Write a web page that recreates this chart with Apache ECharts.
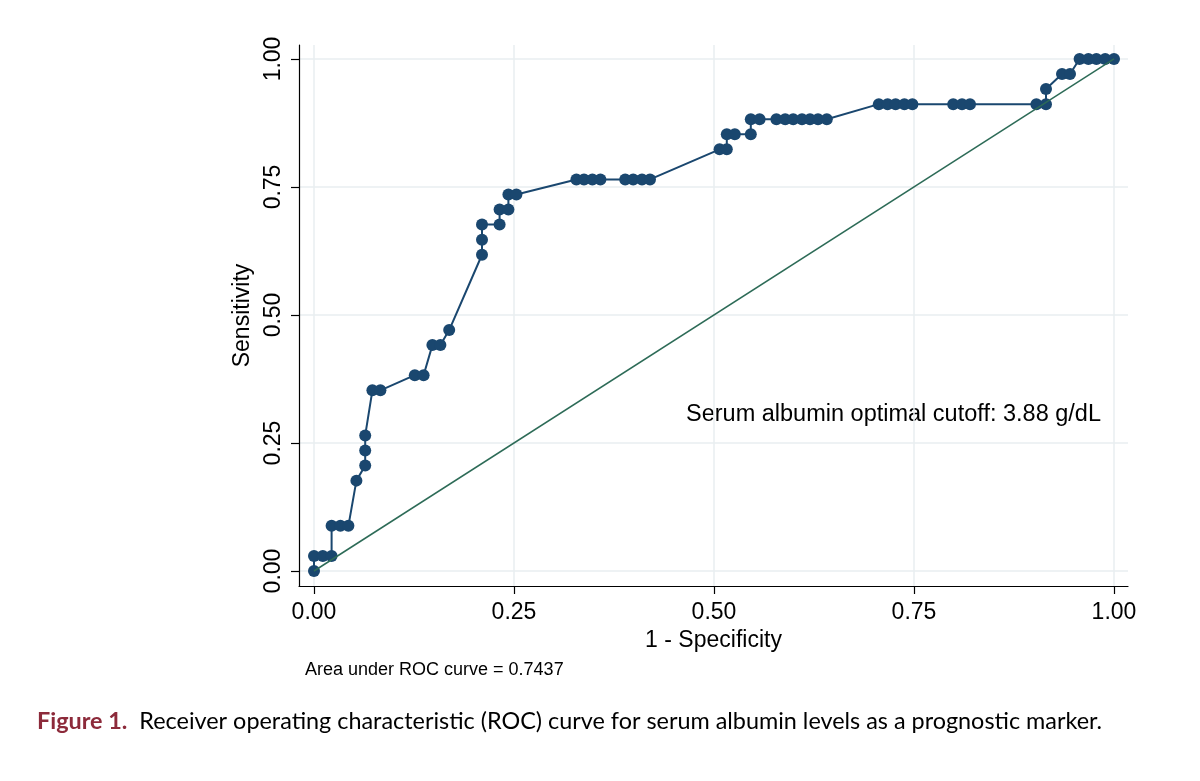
<!DOCTYPE html>
<html>
<head>
<meta charset="utf-8">
<script src="https://cdn.jsdelivr.net/npm/echarts@6/dist/echarts.min.js"></script>
<style>
html,body{margin:0;padding:0;background:#fff;}
#chart{width:1200px;height:781px;}
</style>
</head>
<body>
<div id="chart"></div>
<script>
// 1 - Specificity (false positive rate) for each ROC point
const oneMinusSpec = [
  0.000,
  0.000, 0.011, 0.022,
  0.022, 0.033, 0.043,
  0.053,
  0.064, 0.064, 0.064,
  0.073, 0.083,
  0.126, 0.137,
  0.148, 0.158,
  0.169,
  0.210, 0.210, 0.210,
  0.232, 0.232, 0.243,
  0.243, 0.253,
  0.328, 0.3375, 0.348, 0.358,
  0.389, 0.399, 0.410, 0.420,
  0.507, 0.516,
  0.516, 0.526, 0.546,
  0.546, 0.557,
  0.578, 0.589, 0.599, 0.610, 0.620, 0.630, 0.641,
  0.706, 0.717, 0.727, 0.738, 0.748,
  0.799, 0.810, 0.820,
  0.903, 0.915,
  0.915,
  0.935, 0.945,
  0.957, 0.968, 0.978, 0.989, 1.000
];
// Sensitivity for each ROC point
const sensitivity = [
  0.0000,
  0.0294, 0.0294, 0.0294,
  0.0882, 0.0882, 0.0882,
  0.1765,
  0.2059, 0.2353, 0.2647,
  0.3529, 0.3529,
  0.3824, 0.3824,
  0.4412, 0.4412,
  0.4706,
  0.6176, 0.6471, 0.6765,
  0.6765, 0.7059, 0.7059,
  0.7353, 0.7353,
  0.7647, 0.7647, 0.7647, 0.7647,
  0.7647, 0.7647, 0.7647, 0.7647,
  0.8235, 0.8235,
  0.8529, 0.8529, 0.8529,
  0.8824, 0.8824,
  0.8824, 0.8824, 0.8824, 0.8824, 0.8824, 0.8824, 0.8824,
  0.9118, 0.9118, 0.9118, 0.9118, 0.9118,
  0.9118, 0.9118, 0.9118,
  0.9118, 0.9118,
  0.9412,
  0.9706, 0.9706,
  1.0000, 1.0000, 1.0000, 1.0000, 1.0000
];
// Reference (chance) diagonal
const refX = [0, 1];
const refY = [0, 1];
// Tick values / labels
const tickValues = [0, 0.25, 0.5, 0.75, 1];
const tickLabels = ['0.00', '0.25', '0.50', '0.75', '1.00'];

const annotationText = 'Serum albumin optimal cutoff: 3.88 g/dL';
const aucText = 'Area under ROC curve = 0.7437';
const captionLead = 'Figure 1.';
const captionBody = 'Receiver operating characteristic (ROC) curve for serum albumin levels as a prognostic marker.';

const rocData = oneMinusSpec.map((x, i) => [x, sensitivity[i]]);
const refData = refX.map((x, i) => [x, refY[i]]);

const FONT = '"Liberation Sans", Arial, Helvetica, sans-serif';
const navy = '#1a476f';
const labelFmt = v => {
  const i = tickValues.findIndex(t => Math.abs(t - v) < 1e-9);
  return i >= 0 ? tickLabels[i] : '';
};

const chart = echarts.init(document.getElementById('chart'), null, {renderer: 'canvas'});
chart.setOption({
  animation: false,
  backgroundColor: '#ffffff',
  grid: {left: 299, top: 45, width: 829, height: 541, containLabel: false},
  xAxis: {
    type: 'value',
    min: -0.01875,
    max: 1.0175,
    name: '1 - Specificity',
    nameLocation: 'middle',
    nameGap: 39,
    nameTextStyle: {fontFamily: FONT, fontSize: 23, color: '#000'},
    axisLine: {show: true, onZero: false, lineStyle: {color: '#000', width: 1.2}},
    axisTick: {show: true, customValues: tickValues, length: 8, lineStyle: {color: '#000', width: 1.2}},
    axisLabel: {customValues: tickValues, formatter: labelFmt, fontFamily: FONT, fontSize: 23, color: '#000', margin: 15},
    splitLine: {show: true, lineStyle: {color: '#e8eef1', width: 1.5}}
  },
  yAxis: {
    type: 'value',
    min: -0.0293,
    max: 1.0273,
    name: 'Sensitivity',
    nameLocation: 'middle',
    nameRotate: 90,
    nameGap: 37,
    nameTextStyle: {fontFamily: FONT, fontSize: 23, color: '#000'},
    axisLine: {show: true, onZero: false, lineStyle: {color: '#000', width: 1.2}},
    axisTick: {show: true, customValues: tickValues, length: 8, lineStyle: {color: '#000', width: 1.2}},
    axisLabel: {customValues: tickValues, formatter: labelFmt, rotate: 90, fontFamily: FONT, fontSize: 23, color: '#000', margin: 14},
    splitLine: {show: true, lineStyle: {color: '#e8eef1', width: 1.5}}
  },
  series: [
    {
      type: 'line',
      data: rocData,
      symbol: 'circle',
      symbolSize: 12,
      showAllSymbol: true,
      lineStyle: {color: navy, width: 2},
      itemStyle: {color: navy},
      z: 2
    },
    {
      type: 'line',
      data: refData,
      symbol: 'none',
      lineStyle: {color: '#2d6b57', width: 1.5},
      z: 3
    }
  ],
  graphic: [
    {
      type: 'text',
      left: 686, top: 403,
      style: {text: annotationText, font: '23.5px ' + FONT, fill: '#000'}
    },
    {
      type: 'text',
      left: 305, top: 661,
      style: {text: aucText, font: '18px ' + FONT, fill: '#000'}
    },
    {
      type: 'text',
      left: 37, top: 710,
      style: {
        text: '{a|' + captionLead + '}  {b|' + captionBody + '}',
        rich: {
          a: {fontFamily: 'Lato, sans-serif', fontSize: 23.4, fontWeight: 'bold', fill: '#8c2a3a', color: '#8c2a3a'},
          b: {fontFamily: 'Lato, sans-serif', fontSize: 23.4, fill: '#000', color: '#000'}
        },
        fontFamily: 'Lato, sans-serif', fontSize: 23.4
      }
    }
  ]
});
</script>
</body>
</html>
